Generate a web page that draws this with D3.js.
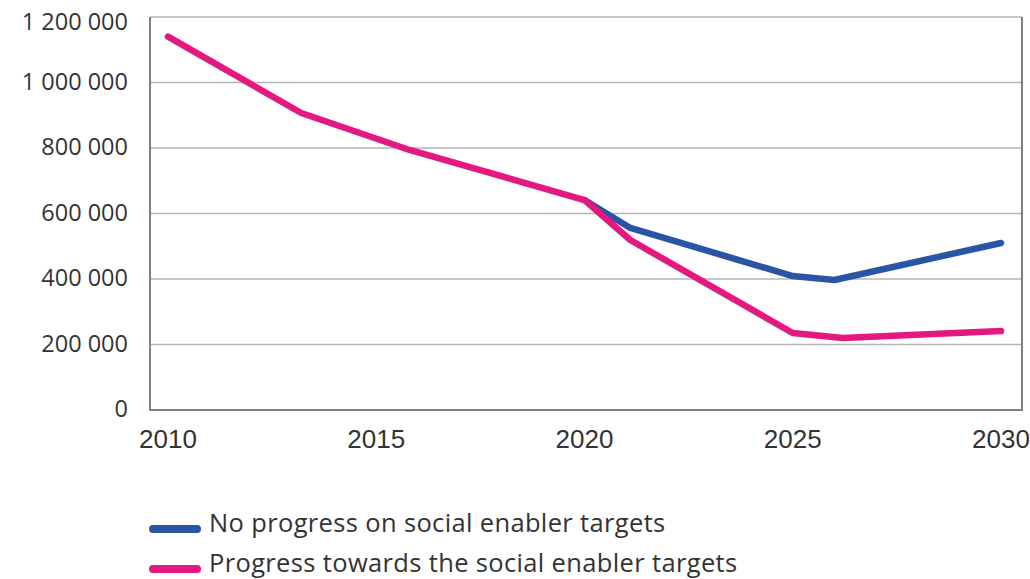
<!DOCTYPE html>
<html>
<head>
<meta charset="utf-8">
<script src="https://cdn.jsdelivr.net/npm/d3@7"></script>
<style>
  body { margin: 0; background: #fff; }
  svg { display: block; }
</style>
</head>
<body>
<svg id="chart" width="1030" height="579"></svg>
<script>
// values
var yTicks = [0, 200000, 400000, 600000, 800000, 1000000, 1200000];
var xTicks = [2010, 2015, 2020, 2025, 2030];

var progressYears  = [2010, 2013.2, 2015.8, 2020, 2021.1, 2025, 2026.2, 2030];
var progressValues = [1140000, 907000, 794000, 641000, 519000, 235000, 220000, 241000];

var noProgressYears  = [2020, 2021.1, 2025, 2026, 2030];
var noProgressValues = [641000, 556000, 409000, 397000, 510000];

var seriesNames = ["No progress on social enabler targets", "Progress towards the social enabler targets"];
var seriesColors = ["#2a55a5", "#e3197f"];

var svg = d3.select("#chart");

var frameLeft = 150, frameRight = 1022, frameTop = 17, frameBottom = 410;

var x = d3.scaleLinear().domain([2010, 2030]).range([168, 1001]);
var y = d3.scaleLinear().domain([0, 1200000]).range([frameBottom, frameTop]);

var fmt = function(d) { return d3.format(",")(d).replace(/,/g, " "); };

// gridlines
svg.append("g")
  .selectAll("line")
  .data(yTicks)
  .join("line")
    .attr("x1", frameLeft).attr("x2", frameRight)
    .attr("y1", function(d) { return y(d); })
    .attr("y2", function(d) { return y(d); })
    .attr("stroke", "#b4b4b4")
    .attr("stroke-width", 1.6);

// frame (left, bottom, right)
svg.append("path")
  .attr("d", "M" + frameLeft + "," + frameTop + "V" + frameBottom + "H" + frameRight + "V" + frameTop)
  .attr("fill", "none")
  .attr("stroke", "#808080")
  .attr("stroke-width", 2);

// y labels (top one sits a bit lower so it isn't cut off)
svg.append("g")
  .selectAll("text")
  .data(yTicks)
  .join("text")
    .attr("x", 128)
    .attr("y", function(d) { return Math.max(y(d), 23) - 1; })
    .attr("dy", "0.35em")
    .attr("text-anchor", "end")
    .attr("font-family", "'Open Sans', 'Noto Sans', sans-serif")
    .attr("font-size", 23.5)
    .attr("fill", "#333")
    .text(fmt);

// x labels
svg.append("g")
  .selectAll("text")
  .data(xTicks)
  .join("text")
    .attr("x", function(d) { return x(d); })
    .attr("y", 448)
    .attr("text-anchor", "middle")
    .attr("font-family", "'Liberation Sans Narrow', 'Arial Narrow', sans-serif")
    .attr("font-size", 26)
    .attr("fill", "#333")
    .text(function(d) { return d; });

var line = d3.line()
  .x(function(d) { return x(d[0]); })
  .y(function(d) { return y(d[1]); });

var noProgress = d3.zip(noProgressYears, noProgressValues);
var progress = d3.zip(progressYears, progressValues);

svg.append("path")
  .datum(noProgress)
  .attr("d", line)
  .attr("fill", "none")
  .attr("stroke", seriesColors[0])
  .attr("stroke-width", 6.5)
  .attr("stroke-linejoin", "round")
  .attr("stroke-linecap", "round");

svg.append("path")
  .datum(progress)
  .attr("d", line)
  .attr("fill", "none")
  .attr("stroke", seriesColors[1])
  .attr("stroke-width", 6.5)
  .attr("stroke-linejoin", "round")
  .attr("stroke-linecap", "round");

// legend
var legend = svg.append("g")
  .selectAll("g")
  .data(seriesNames)
  .join("g")
    .attr("transform", function(d, i) { return "translate(0," + (529 + i * 40) + ")"; });

legend.append("line")
  .attr("x1", 153).attr("x2", 197)
  .attr("y1", 0).attr("y2", 0)
  .attr("stroke", function(d, i) { return seriesColors[i]; })
  .attr("stroke-width", 8)
  .attr("stroke-linecap", "round");

legend.append("text")
  .attr("x", 209)
  .attr("y", 3)
  .attr("font-family", "'Open Sans', 'Noto Sans', sans-serif")
  .attr("font-size", 25.5)
  .attr("letter-spacing", 0.35)
  .attr("fill", "#333")
  .text(function(d) { return d; });
</script>
</body>
</html>
